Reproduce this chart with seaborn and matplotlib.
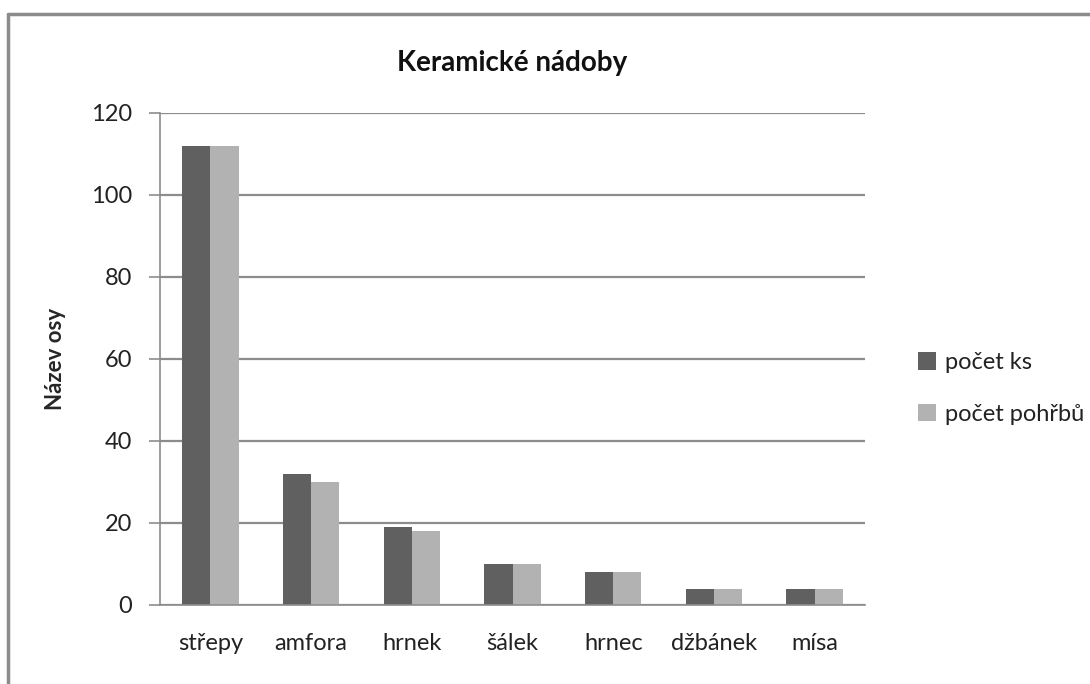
import pandas as pd
import matplotlib.pyplot as plt
import seaborn as sns
from matplotlib.lines import Line2D

categories = ["střepy", "amfora", "hrnek", "šálek", "hrnec", "džbánek", "mísa"]
pocet_ks = [112, 32, 19, 10, 8, 4, 4]
pocet_pohrbu = [112, 30, 18, 10, 8, 4, 4]
series = ["počet ks", "počet pohřbů"]
colors = ["#606060", "#b2b2b2"]

df = pd.DataFrame({"kategorie": categories, series[0]: pocet_ks, series[1]: pocet_pohrbu})
df_melted = df.melt(id_vars="kategorie", var_name="serie", value_name="hodnota")

sns.set_theme(style="white")
plt.rcParams['font.family'] = ['Lato', 'DejaVu Sans']

fig = plt.figure(figsize=(10.9, 6.84), dpi=100)
ax = fig.add_axes([0.1468, 0.1155, 0.6468, 0.7193])

sns.barplot(data=df_melted, x="kategorie", y="hodnota", hue="serie",
            palette=colors, width=0.56, saturation=1, linewidth=0, ax=ax, legend=True)

ax.set_ylim(0, 120)
ax.set_yticks(range(0, 121, 20))
ax.yaxis.grid(True, color="#8c8c8c", linewidth=1.6)
ax.set_axisbelow(True)
for s in ["top", "right"]:
    ax.spines[s].set_visible(False)
for s in ["left", "bottom"]:
    ax.spines[s].set_color("#8c8c8c")
    ax.spines[s].set_linewidth(1.2)
ax.tick_params(axis="y", length=8, color="#8c8c8c", width=1.2, labelsize=17,
               labelcolor="#222222", pad=12, left=True)
ax.tick_params(axis="x", length=0, labelsize=17, labelcolor="#222222", pad=20)

ax.set_xlabel("")
ax.set_ylabel("Název osy", fontsize=16, fontweight="bold", labelpad=18)
ax.set_title("Keramické nádoby", fontsize=20, fontweight="bold", pad=30, color="#111111")

leg = ax.legend(loc="center left", bbox_to_anchor=(1.045, 0.44), frameon=False,
                fontsize=17, handlelength=0.75, handleheight=0.75, handletextpad=0.4,
                labelspacing=1.3)
for t in leg.get_texts():
    t.set_color("#222222")

# outer chart frame (top and left edges visible)
fig.add_artist(Line2D([0.007, 1.0], [0.979, 0.979], color="#8c8c8c", linewidth=2.5))
fig.add_artist(Line2D([0.007, 0.007], [0.0, 0.979], color="#8c8c8c", linewidth=2.5))

plt.savefig("out.png", dpi=100)
